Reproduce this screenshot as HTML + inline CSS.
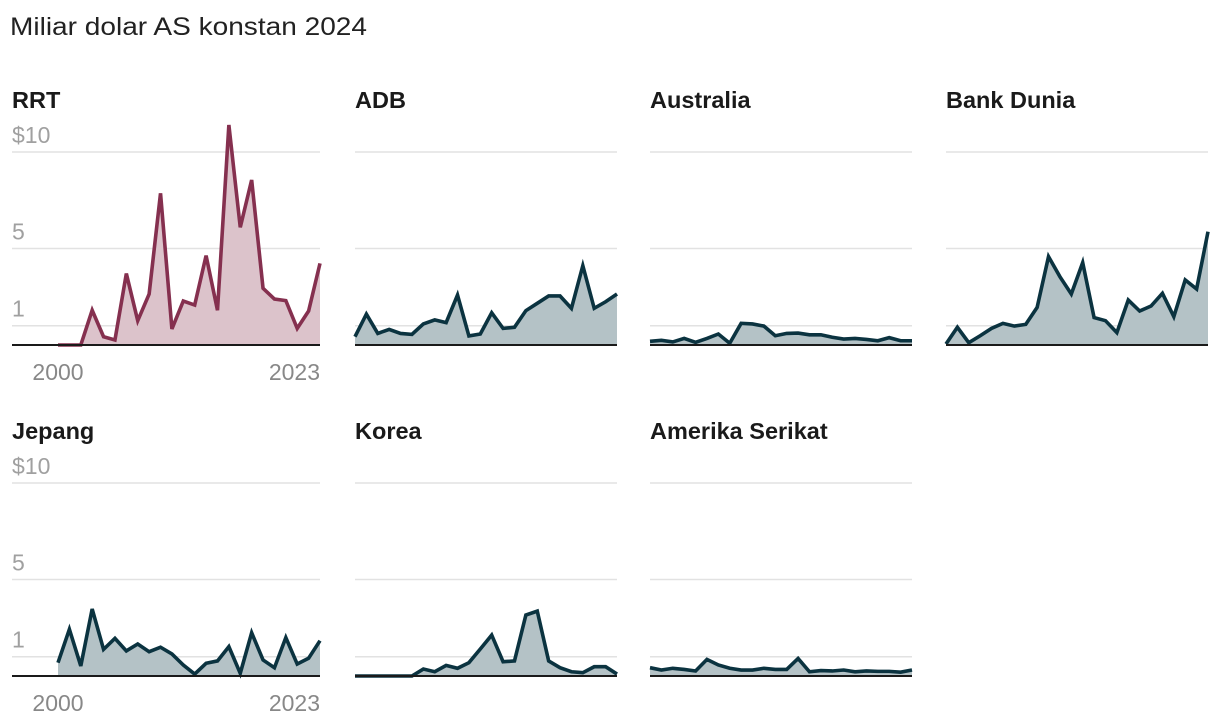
<!DOCTYPE html>
<html><head><meta charset="utf-8"><style>
body{margin:0;background:#fff;width:1220px;height:726px;overflow:hidden}
svg{display:block;font-family:"Liberation Sans",Roboto,sans-serif}
</style></head><body>
<svg id="c" width="1220" height="726">
<text x="10" y="35" font-size="25" textLength="357" lengthAdjust="spacingAndGlyphs" fill="#222">Miliar dolar AS konstan 2024</text>
</svg>
<script>
const years = [2000,2001,2002,2003,2004,2005,2006,2007,2008,2009,2010,2011,2012,2013,2014,2015,2016,2017,2018,2019,2020,2021,2022,2023];
const names = ["RRT","ADB","Australia","Bank Dunia","Jepang","Korea","Amerika Serikat"];
const rrt = [0,0,0,1.8,0.43,0.26,3.7,1.26,2.64,7.86,0.83,2.28,2.07,4.63,1.8,11.4,6.1,8.55,2.94,2.38,2.3,0.86,1.76,4.23];
const adb = [0.43,1.6,0.6,0.81,0.6,0.55,1.09,1.3,1.16,2.59,0.47,0.57,1.67,0.86,0.92,1.78,2.16,2.54,2.54,1.9,4.11,1.9,2.24,2.64];
const australia = [0.19,0.24,0.16,0.34,0.14,0.34,0.57,0.09,1.12,1.09,0.98,0.48,0.6,0.62,0.53,0.53,0.4,0.31,0.34,0.29,0.22,0.38,0.22,0.22];
const bankDunia = [0.05,0.92,0.12,0.48,0.86,1.12,0.98,1.07,1.95,4.58,3.54,2.64,4.27,1.42,1.26,0.64,2.33,1.76,2.02,2.68,1.47,3.37,2.9,5.87];
const jepang = [0.69,2.42,0.52,3.47,1.38,1.95,1.3,1.66,1.26,1.49,1.14,0.57,0.1,0.66,0.78,1.52,0.14,2.24,0.83,0.43,1.99,0.62,0.92,1.83];
const korea = [0,0,0,0,0,0,0.36,0.22,0.55,0.4,0.69,1.4,2.12,0.74,0.78,3.16,3.36,0.78,0.43,0.22,0.17,0.48,0.48,0.1];
const amerika = [0.43,0.31,0.4,0.34,0.26,0.86,0.57,0.4,0.31,0.31,0.4,0.34,0.34,0.91,0.22,0.28,0.26,0.31,0.22,0.26,0.24,0.24,0.2,0.31];
const yTicks = [10,5,1];
const yTickLabels = ["$10","5","1"];
const xTickLabels = ["2000","2023"];

const series=[rrt,adb,australia,bankDunia,jepang,korea,amerika];
const svg=document.getElementById('c');
const NS='http://www.w3.org/2000/svg';
function mk(t,a){const e=document.createElementNS(NS,t);for(const k in a)e.setAttribute(k,a[k]);svg.appendChild(e);return e;}
const colX=[58,355,650,946], rowBase=[345,676], W=262, U=19.3;
series.forEach((d,i)=>{
  const col=i%4,row=Math.floor(i/4);
  const x0=colX[col], base=rowBase[row];
  const gx0 = col===0?12:x0;
  const xs=k=>x0+(years[k]-years[0])/(years[years.length-1]-years[0])*W;
  const ys=v=>base-v*U;
  const slug=names[i].toLowerCase().replace(/ /g,'-');
  const t=mk('text',{x:col===0?12:x0,y:base-237,'font-size':23.5,'font-weight':'bold',fill:'#1a1a1a'});
  t.textContent=names[i];
  
  
  yTicks.forEach((v,j)=>{
    const g=mk('line',{x1:gx0,x2:x0+W,y1:ys(v),y2:ys(v),stroke:'#e2e2e2','stroke-width':1.5});
    
    
    if(col===0){
      const l=mk('text',{x:12,y:ys(v)-9,'font-size':23,fill:'#a0a0a0'});
      l.textContent=yTickLabels[j];
      
      
    }
  });
  const color=i===0?'#85304f':'#0b3340', fill=i===0?'#dcc3cb':'#b4c2c6';
  let p='M'+xs(0)+','+base;
  d.forEach((v,k)=>p+='L'+xs(k)+','+ys(v));
  p+='L'+xs(d.length-1)+','+base+'Z';
  const a=mk('path',{d:p,fill:fill});
  
  
  const ln=mk('polyline',{points:d.map((v,k)=>xs(k)+','+ys(v)).join(' '),fill:'none',stroke:color,'stroke-width':3.6,'stroke-linejoin':'miter'});
  
  
  const b=mk('line',{x1:gx0,x2:x0+W,y1:base,y2:base,stroke:'#1a1a1a','stroke-width':2});
  
  
  if(col===0){
    const l1=mk('text',{x:xs(0),y:base+35,'font-size':23,fill:'#888','text-anchor':'middle'});
    l1.textContent=xTickLabels[0];
    
    
    const l2=mk('text',{x:x0+W,y:base+35,'font-size':23,fill:'#888','text-anchor':'end'});
    l2.textContent=xTickLabels[1];
    
    
  }
});
</script>
</body></html>
